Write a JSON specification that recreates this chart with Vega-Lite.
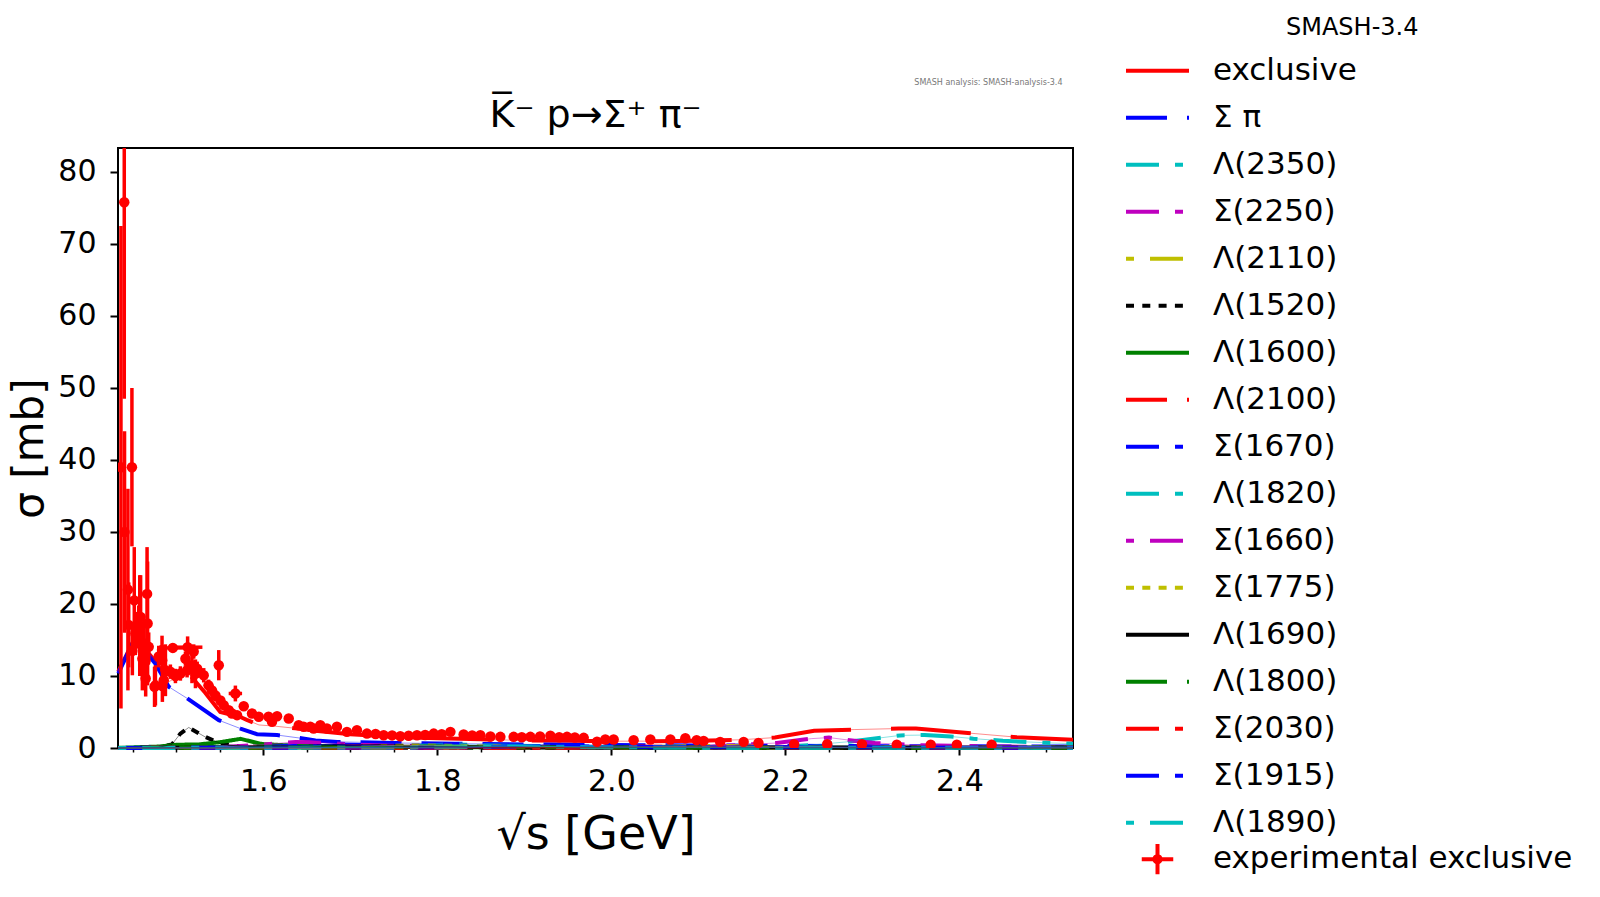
{
  "$schema": "https://vega.github.io/schema/vega-lite/v6.json",
  "width": 955,
  "height": 600,
  "autosize": {"type": "none"},
  "padding": {"left": 118, "top": 148, "right": 527, "bottom": 149},
  "background": "white",
  "config": {
    "font": "DejaVu Sans",
    "view": {"stroke": "black", "strokeWidth": 2},
    "axis": {
      "domain": false,
      "grid": false,
      "labelFont": "DejaVu Sans",
      "labelFontSize": 30,
      "labelColor": "black",
      "labelOverlap": false,
      "labelFlush": false,
      "tickColor": "black",
      "titleFont": "DejaVu Sans",
      "titleFontSize": 42,
      "titleFontWeight": "normal",
      "titleColor": "black"
    },
    "legend": {
      "labelFont": "DejaVu Sans",
      "labelFontSize": 31,
      "labelColor": "black",
      "labelLimit": 500,
      "labelOffset": 22,
      "symbolSize": 3969,
      "symbolStrokeWidth": 4,
      "symbolType": "stroke",
      "clipHeight": 46.4,
      "rowPadding": 0,
      "padding": 0
    }
  },
  "datasets": {
    "models": [
      {"series": "exclusive", "x": 1.4333, "y": 10.6},
      {"series": "exclusive", "x": 1.4529, "y": 15.4},
      {"series": "exclusive", "x": 1.468, "y": 13.2},
      {"series": "exclusive", "x": 1.476, "y": 12.0},
      {"series": "exclusive", "x": 1.4913, "y": 9.2},
      {"series": "exclusive", "x": 1.5047, "y": 10.1},
      {"series": "exclusive", "x": 1.5143, "y": 10.3},
      {"series": "exclusive", "x": 1.533, "y": 7.7},
      {"series": "exclusive", "x": 1.5505, "y": 5.0},
      {"series": "exclusive", "x": 1.5737, "y": 4.3},
      {"series": "exclusive", "x": 1.581, "y": 3.9},
      {"series": "exclusive", "x": 1.595, "y": 3.2},
      {"series": "exclusive", "x": 1.612, "y": 3.05},
      {"series": "exclusive", "x": 1.64, "y": 2.7},
      {"series": "exclusive", "x": 1.66, "y": 2.4},
      {"series": "exclusive", "x": 1.7, "y": 1.9},
      {"series": "exclusive", "x": 1.75, "y": 1.55},
      {"series": "exclusive", "x": 1.8, "y": 1.35},
      {"series": "exclusive", "x": 1.85, "y": 1.2},
      {"series": "exclusive", "x": 1.9, "y": 1.05},
      {"series": "exclusive", "x": 1.95, "y": 1.0},
      {"series": "exclusive", "x": 2.0, "y": 0.95},
      {"series": "exclusive", "x": 2.05, "y": 0.95},
      {"series": "exclusive", "x": 2.1, "y": 1.0},
      {"series": "exclusive", "x": 2.15, "y": 1.15},
      {"series": "exclusive", "x": 2.188, "y": 1.45},
      {"series": "exclusive", "x": 2.233, "y": 2.38},
      {"series": "exclusive", "x": 2.279, "y": 2.56},
      {"series": "exclusive", "x": 2.33, "y": 2.7},
      {"series": "exclusive", "x": 2.35, "y": 2.7},
      {"series": "exclusive", "x": 2.418, "y": 2.0},
      {"series": "exclusive", "x": 2.466, "y": 1.5},
      {"series": "exclusive", "x": 2.5305, "y": 1.15},

      {"series": "Σ π", "x": 1.4333, "y": 10.35},
      {"series": "Σ π", "x": 1.453, "y": 15.4},
      {"series": "Σ π", "x": 1.468, "y": 12.9},
      {"series": "Σ π", "x": 1.476, "y": 11.7},
      {"series": "Σ π", "x": 1.4913, "y": 8.5},
      {"series": "Σ π", "x": 1.5124, "y": 6.9},
      {"series": "Σ π", "x": 1.5488, "y": 3.86},
      {"series": "Σ π", "x": 1.5737, "y": 2.7},
      {"series": "Σ π", "x": 1.5928, "y": 1.92},
      {"series": "Σ π", "x": 1.6158, "y": 1.8},
      {"series": "Σ π", "x": 1.6407, "y": 1.4},
      {"series": "Σ π", "x": 1.66, "y": 1.05},
      {"series": "Σ π", "x": 1.685, "y": 0.85},
      {"series": "Σ π", "x": 1.75, "y": 0.7},
      {"series": "Σ π", "x": 1.82, "y": 0.6},
      {"series": "Σ π", "x": 1.9, "y": 0.5},
      {"series": "Σ π", "x": 2.0, "y": 0.4},
      {"series": "Σ π", "x": 2.1, "y": 0.35},
      {"series": "Σ π", "x": 2.2, "y": 0.3},
      {"series": "Σ π", "x": 2.35, "y": 0.25},
      {"series": "Σ π", "x": 2.5305, "y": 0.2},

      {"series": "Λ(2350)", "x": 1.4333, "y": 0.0},
      {"series": "Λ(2350)", "x": 2.2, "y": 0.1},
      {"series": "Λ(2350)", "x": 2.275, "y": 0.9},
      {"series": "Λ(2350)", "x": 2.332, "y": 1.75},
      {"series": "Λ(2350)", "x": 2.36, "y": 1.8},
      {"series": "Λ(2350)", "x": 2.39, "y": 1.6},
      {"series": "Λ(2350)", "x": 2.416, "y": 1.3},
      {"series": "Λ(2350)", "x": 2.45, "y": 1.0},
      {"series": "Λ(2350)", "x": 2.5, "y": 0.72},
      {"series": "Λ(2350)", "x": 2.5305, "y": 0.6},

      {"series": "Σ(2250)", "x": 1.4333, "y": 0.0},
      {"series": "Σ(2250)", "x": 2.1, "y": 0.1},
      {"series": "Σ(2250)", "x": 2.19, "y": 0.7},
      {"series": "Σ(2250)", "x": 2.23, "y": 1.3},
      {"series": "Σ(2250)", "x": 2.25, "y": 1.45},
      {"series": "Σ(2250)", "x": 2.274, "y": 1.08},
      {"series": "Σ(2250)", "x": 2.303, "y": 0.7},
      {"series": "Σ(2250)", "x": 2.35, "y": 0.4},
      {"series": "Σ(2250)", "x": 2.45, "y": 0.2},
      {"series": "Σ(2250)", "x": 2.5305, "y": 0.1},

      {"series": "Λ(2110)", "x": 1.4333, "y": 0.0},
      {"series": "Λ(2110)", "x": 2.0, "y": 0.05},
      {"series": "Λ(2110)", "x": 2.12, "y": 0.3},
      {"series": "Λ(2110)", "x": 2.2, "y": 0.15},
      {"series": "Λ(2110)", "x": 2.35, "y": 0.05},
      {"series": "Λ(2110)", "x": 2.5305, "y": 0.02},

      {"series": "Λ(1520)", "x": 1.4333, "y": 0.0},
      {"series": "Λ(1520)", "x": 1.478, "y": 0.05},
      {"series": "Λ(1520)", "x": 1.495, "y": 0.5},
      {"series": "Λ(1520)", "x": 1.5047, "y": 2.0},
      {"series": "Λ(1520)", "x": 1.5143, "y": 2.85},
      {"series": "Λ(1520)", "x": 1.533, "y": 1.55},
      {"series": "Λ(1520)", "x": 1.5507, "y": 0.62},
      {"series": "Λ(1520)", "x": 1.568, "y": 0.3},
      {"series": "Λ(1520)", "x": 1.6, "y": 0.15},
      {"series": "Λ(1520)", "x": 1.7, "y": 0.05},
      {"series": "Λ(1520)", "x": 2.0, "y": 0.02},
      {"series": "Λ(1520)", "x": 2.5305, "y": 0.01},

      {"series": "Λ(1600)", "x": 1.4333, "y": 0.02},
      {"series": "Λ(1600)", "x": 1.48, "y": 0.2},
      {"series": "Λ(1600)", "x": 1.5, "y": 0.45},
      {"series": "Λ(1600)", "x": 1.526, "y": 0.5},
      {"series": "Λ(1600)", "x": 1.55, "y": 0.8},
      {"series": "Λ(1600)", "x": 1.5737, "y": 1.27},
      {"series": "Λ(1600)", "x": 1.5986, "y": 0.55},
      {"series": "Λ(1600)", "x": 1.63, "y": 0.35},
      {"series": "Λ(1600)", "x": 1.7, "y": 0.2},
      {"series": "Λ(1600)", "x": 1.8, "y": 0.12},
      {"series": "Λ(1600)", "x": 2.0, "y": 0.08},
      {"series": "Λ(1600)", "x": 2.5305, "y": 0.04},

      {"series": "Λ(2100)", "x": 1.4333, "y": 0.0},
      {"series": "Λ(2100)", "x": 2.0, "y": 0.03},
      {"series": "Λ(2100)", "x": 2.1, "y": 0.15},
      {"series": "Λ(2100)", "x": 2.2, "y": 0.08},
      {"series": "Λ(2100)", "x": 2.5305, "y": 0.02},

      {"series": "Σ(1670)", "x": 1.4333, "y": 0.0},
      {"series": "Σ(1670)", "x": 1.6, "y": 0.2},
      {"series": "Σ(1670)", "x": 1.68, "y": 0.5},
      {"series": "Σ(1670)", "x": 1.75, "y": 0.3},
      {"series": "Σ(1670)", "x": 1.9, "y": 0.1},
      {"series": "Σ(1670)", "x": 2.5305, "y": 0.03},

      {"series": "Λ(1820)", "x": 1.4333, "y": 0.0},
      {"series": "Λ(1820)", "x": 1.75, "y": 0.2},
      {"series": "Λ(1820)", "x": 1.82, "y": 0.5},
      {"series": "Λ(1820)", "x": 1.88, "y": 0.3},
      {"series": "Λ(1820)", "x": 2.0, "y": 0.1},
      {"series": "Λ(1820)", "x": 2.5305, "y": 0.03},

      {"series": "Σ(1660)", "x": 1.4333, "y": 0.01},
      {"series": "Σ(1660)", "x": 1.55, "y": 0.1},
      {"series": "Σ(1660)", "x": 1.602, "y": 0.5},
      {"series": "Σ(1660)", "x": 1.637, "y": 0.85},
      {"series": "Σ(1660)", "x": 1.66, "y": 0.8},
      {"series": "Σ(1660)", "x": 1.7, "y": 0.5},
      {"series": "Σ(1660)", "x": 1.75, "y": 0.3},
      {"series": "Σ(1660)", "x": 1.85, "y": 0.15},
      {"series": "Σ(1660)", "x": 2.0, "y": 0.08},
      {"series": "Σ(1660)", "x": 2.5305, "y": 0.03},

      {"series": "Σ(1775)", "x": 1.4333, "y": 0.0},
      {"series": "Σ(1775)", "x": 1.7, "y": 0.15},
      {"series": "Σ(1775)", "x": 1.78, "y": 0.4},
      {"series": "Σ(1775)", "x": 1.85, "y": 0.25},
      {"series": "Σ(1775)", "x": 2.0, "y": 0.1},
      {"series": "Σ(1775)", "x": 2.5305, "y": 0.03},

      {"series": "Λ(1690)", "x": 1.4333, "y": 0.0},
      {"series": "Λ(1690)", "x": 1.65, "y": 0.15},
      {"series": "Λ(1690)", "x": 1.69, "y": 0.3},
      {"series": "Λ(1690)", "x": 1.75, "y": 0.2},
      {"series": "Λ(1690)", "x": 1.9, "y": 0.08},
      {"series": "Λ(1690)", "x": 2.5305, "y": 0.02},

      {"series": "Λ(1800)", "x": 1.4333, "y": 0.0},
      {"series": "Λ(1800)", "x": 1.75, "y": 0.1},
      {"series": "Λ(1800)", "x": 1.8, "y": 0.2},
      {"series": "Λ(1800)", "x": 1.9, "y": 0.1},
      {"series": "Λ(1800)", "x": 2.5305, "y": 0.02},

      {"series": "Σ(2030)", "x": 1.4333, "y": 0.0},
      {"series": "Σ(2030)", "x": 1.95, "y": 0.05},
      {"series": "Σ(2030)", "x": 2.03, "y": 0.2},
      {"series": "Σ(2030)", "x": 2.1, "y": 0.1},
      {"series": "Σ(2030)", "x": 2.5305, "y": 0.02},

      {"series": "Σ(1915)", "x": 1.4333, "y": 0.0},
      {"series": "Σ(1915)", "x": 1.85, "y": 0.1},
      {"series": "Σ(1915)", "x": 1.92, "y": 0.3},
      {"series": "Σ(1915)", "x": 2.0, "y": 0.15},
      {"series": "Σ(1915)", "x": 2.5305, "y": 0.03},

      {"series": "Λ(1890)", "x": 1.4333, "y": 0.0},
      {"series": "Λ(1890)", "x": 1.82, "y": 0.1},
      {"series": "Λ(1890)", "x": 1.89, "y": 0.3},
      {"series": "Λ(1890)", "x": 1.95, "y": 0.15},
      {"series": "Λ(1890)", "x": 2.1, "y": 0.05},
      {"series": "Λ(1890)", "x": 2.5305, "y": 0.02}
    ],
    "exp": [
      {"x": 1.4364, "y": 39.0, "yerr": 33.5},
      {"x": 1.4402, "y": 75.8, "yerr": 27.3},
      {"x": 1.4405, "y": 30.0, "yerr": 14.0},
      {"x": 1.4444, "y": 22.0, "yerr": 14.0},
      {"x": 1.4453, "y": 17.1, "yerr": 5.9},
      {"x": 1.449, "y": 39.0, "yerr": 11.0},
      {"x": 1.4495, "y": 13.5, "yerr": 3.4},
      {"x": 1.4517, "y": 20.5, "yerr": 7.4},
      {"x": 1.453, "y": 15.9, "yerr": 3.0},
      {"x": 1.4568, "y": 16.8, "yerr": 3.0},
      {"x": 1.458, "y": 17.0, "yerr": 7.0},
      {"x": 1.459, "y": 18.2, "yerr": 5.8},
      {"x": 1.461, "y": 12.4, "yerr": 4.4},
      {"x": 1.4626, "y": 11.3, "yerr": 2.5},
      {"x": 1.463, "y": 14.5, "yerr": 3.0},
      {"x": 1.4645, "y": 12.0, "yerr": 3.0},
      {"x": 1.4648, "y": 9.65, "yerr": 2.5},
      {"x": 1.4664, "y": 21.4, "yerr": 6.5},
      {"x": 1.467, "y": 17.3, "yerr": 8.6},
      {"x": 1.4683, "y": 14.05, "yerr": 2.0},
      {"x": 1.475, "y": 8.5, "yerr": 2.8},
      {"x": 1.476, "y": 8.7, "yerr": 2.8},
      {"x": 1.4798, "y": 12.7, "yerr": 1.5},
      {"x": 1.4836, "y": 13.6, "yerr": 2.0},
      {"x": 1.4838, "y": 12.2, "yerr": 1.5},
      {"x": 1.484, "y": 8.6, "yerr": 2.2},
      {"x": 1.4856, "y": 9.4, "yerr": 1.5},
      {"x": 1.4875, "y": 10.8, "yerr": 3.6},
      {"x": 1.4932, "y": 10.6, "yerr": 1.0},
      {"x": 1.496, "y": 13.9, "yerr": 0.6, "xerr": 0.018},
      {"x": 1.499, "y": 10.0, "yerr": 1.0},
      {"x": 1.5047, "y": 10.35, "yerr": 1.0},
      {"x": 1.5105, "y": 12.4, "yerr": 1.0},
      {"x": 1.5124, "y": 10.8, "yerr": 1.0},
      {"x": 1.513, "y": 14.0, "yerr": 1.5, "xerr": 0.017},
      {"x": 1.518, "y": 11.5, "yerr": 2.5},
      {"x": 1.52, "y": 13.4, "yerr": 1.0},
      {"x": 1.522, "y": 10.3, "yerr": 2.0},
      {"x": 1.524, "y": 11.0, "yerr": 1.0},
      {"x": 1.5315, "y": 10.1, "yerr": 1.0},
      {"x": 1.537, "y": 8.7, "yerr": 0.8},
      {"x": 1.541, "y": 8.0, "yerr": 0.8},
      {"x": 1.545, "y": 7.3, "yerr": 0.8},
      {"x": 1.5488, "y": 11.5, "yerr": 2.1},
      {"x": 1.5507, "y": 6.6, "yerr": 0.6},
      {"x": 1.5545, "y": 5.95, "yerr": 0.5},
      {"x": 1.5603, "y": 5.25, "yerr": 0.5},
      {"x": 1.564, "y": 4.8, "yerr": 0.5},
      {"x": 1.5679, "y": 7.57, "yerr": 1.1, "xerr": 0.0077},
      {"x": 1.5698, "y": 4.56, "yerr": 0.4},
      {"x": 1.5775, "y": 5.8, "yerr": 0.5},
      {"x": 1.587, "y": 4.8, "yerr": 0.4},
      {"x": 1.5948, "y": 4.33, "yerr": 0.4},
      {"x": 1.606, "y": 4.33, "yerr": 0.3},
      {"x": 1.61, "y": 3.63, "yerr": 0.3},
      {"x": 1.6158, "y": 4.42, "yerr": 0.3},
      {"x": 1.6292, "y": 4.1, "yerr": 0.3},
      {"x": 1.6407, "y": 3.17, "yerr": 0.3},
      {"x": 1.6463, "y": 2.94, "yerr": 0.3},
      {"x": 1.654, "y": 2.94, "yerr": 0.3},
      {"x": 1.6578, "y": 2.7, "yerr": 0.3},
      {"x": 1.6655, "y": 3.17, "yerr": 0.3},
      {"x": 1.6731, "y": 2.7, "yerr": 0.3},
      {"x": 1.6846, "y": 2.94, "yerr": 0.3},
      {"x": 1.6961, "y": 2.24, "yerr": 0.2},
      {"x": 1.7076, "y": 2.47, "yerr": 0.2},
      {"x": 1.7191, "y": 2.0, "yerr": 0.2},
      {"x": 1.729, "y": 1.95, "yerr": 0.2},
      {"x": 1.7383, "y": 1.78, "yerr": 0.2},
      {"x": 1.748, "y": 1.75, "yerr": 0.2},
      {"x": 1.7574, "y": 1.64, "yerr": 0.2},
      {"x": 1.767, "y": 1.7, "yerr": 0.2},
      {"x": 1.7766, "y": 1.78, "yerr": 0.2},
      {"x": 1.786, "y": 1.8, "yerr": 0.2},
      {"x": 1.7958, "y": 2.0, "yerr": 0.2},
      {"x": 1.805, "y": 1.9, "yerr": 0.2},
      {"x": 1.815, "y": 2.24, "yerr": 0.2},
      {"x": 1.8302, "y": 1.87, "yerr": 0.2},
      {"x": 1.84, "y": 1.75, "yerr": 0.2},
      {"x": 1.8494, "y": 1.78, "yerr": 0.2},
      {"x": 1.861, "y": 1.6, "yerr": 0.2},
      {"x": 1.8724, "y": 1.55, "yerr": 0.2},
      {"x": 1.8877, "y": 1.55, "yerr": 0.2},
      {"x": 1.897, "y": 1.5, "yerr": 0.2},
      {"x": 1.9069, "y": 1.55, "yerr": 0.2},
      {"x": 1.918, "y": 1.6, "yerr": 0.2},
      {"x": 1.9299, "y": 1.69, "yerr": 0.2},
      {"x": 1.94, "y": 1.5, "yerr": 0.2},
      {"x": 1.949, "y": 1.55, "yerr": 0.2},
      {"x": 1.958, "y": 1.45, "yerr": 0.2},
      {"x": 1.9682, "y": 1.41, "yerr": 0.2},
      {"x": 1.9835, "y": 0.86, "yerr": 0.2},
      {"x": 1.993, "y": 1.17, "yerr": 0.2},
      {"x": 2.0026, "y": 1.18, "yerr": 0.2},
      {"x": 2.0256, "y": 1.09, "yerr": 0.2},
      {"x": 2.0448, "y": 1.18, "yerr": 0.2},
      {"x": 2.0678, "y": 1.18, "yerr": 0.2},
      {"x": 2.085, "y": 1.35, "yerr": 0.2},
      {"x": 2.098, "y": 1.09, "yerr": 0.2},
      {"x": 2.106, "y": 0.99, "yerr": 0.2},
      {"x": 2.125, "y": 0.85, "yerr": 0.2},
      {"x": 2.152, "y": 0.85, "yerr": 0.2},
      {"x": 2.169, "y": 0.71, "yerr": 0.2},
      {"x": 2.21, "y": 0.52, "yerr": 0.15},
      {"x": 2.248, "y": 0.52, "yerr": 0.15},
      {"x": 2.288, "y": 0.52, "yerr": 0.15},
      {"x": 2.328, "y": 0.45, "yerr": 0.15},
      {"x": 2.367, "y": 0.45, "yerr": 0.15},
      {"x": 2.397, "y": 0.45, "yerr": 0.15},
      {"x": 2.437, "y": 0.45, "yerr": 0.15}
    ]
  },
  "layer": [
    {
      "data": {"name": "models"},
      "mark": {"type": "line", "strokeWidth": 4},
      "encoding": {
        "x": {
          "field": "x",
          "type": "quantitative",
          "title": "√s [GeV]",
          "scale": {"domain": [1.433, 2.5305], "nice": false, "zero": false},
          "axis": {
            "values": [1.45, 1.5, 1.55, 1.6, 1.65, 1.7, 1.75, 1.8, 1.85, 1.9, 1.95, 2.0, 2.05, 2.1, 2.15, 2.2, 2.25, 2.3, 2.35, 2.4, 2.45, 2.5],
            "labelExpr": "abs(datum.value*5 - round(datum.value*5)) < 0.001 ? format(datum.value, '.1f') : ''",
            "tickSize": {"condition": {"test": "abs(datum.value*5 - round(datum.value*5)) < 0.001", "value": 7}, "value": 4},
            "tickWidth": {"condition": {"test": "abs(datum.value*5 - round(datum.value*5)) < 0.001", "value": 2}, "value": 1.5},
            "labelPadding": 11,
            "titlePadding": 16,
            "titleFontSize": 46,
            "labelFlush": false,
            "labelOverlap": false
          }
        },
        "y": {
          "field": "y",
          "type": "quantitative",
          "title": "σ [mb]",
          "scale": {"domain": [0, 83.33], "nice": false, "zero": true},
          "axis": {
            "values": [0, 10, 20, 30, 40, 50, 60, 70, 80],
            "format": "d",
            "tickSize": 8,
            "tickWidth": 2,
            "labelPadding": 14,
            "titlePadding": 6,
            "labelOverlap": false
          }
        },
        "color": {
          "field": "series",
          "type": "nominal",
          "scale": {
            "domain": ["exclusive", "Σ π", "Λ(2350)", "Σ(2250)", "Λ(2110)", "Λ(1520)", "Λ(1600)", "Λ(2100)", "Σ(1670)", "Λ(1820)", "Σ(1660)", "Σ(1775)", "Λ(1690)", "Λ(1800)", "Σ(2030)", "Σ(1915)", "Λ(1890)"],
            "range": ["#ff0000", "#0000ff", "#00bfbf", "#bf00bf", "#bfbf00", "#000000", "#008000", "#ff0000", "#0000ff", "#00bfbf", "#bf00bf", "#bfbf00", "#000000", "#008000", "#ff0000", "#0000ff", "#00bfbf"]
          },
          "legend": {"title": null, "orient": "none", "legendX": 1006, "legendY": -100.5}
        },
        "strokeDash": {
          "field": "series",
          "type": "nominal",
          "scale": {
            "domain": ["exclusive", "Σ π", "Λ(2350)", "Σ(2250)", "Λ(2110)", "Λ(1520)", "Λ(1600)", "Λ(2100)", "Σ(1670)", "Λ(1820)", "Σ(1660)", "Σ(1775)", "Λ(1690)", "Λ(1800)", "Σ(2030)", "Σ(1915)", "Λ(1890)"],
            "range": [[80, 40], [41, 20], [33, 16, 8, 16], [33, 16, 8, 16], [8, 16, 33, 16], [8, 8.3], [1, 0], [41, 20], [33, 16, 8, 16], [33, 16, 8, 16], [8, 16, 33, 16], [8, 8.3], [1, 0], [41, 20], [33, 16, 8, 16], [33, 16, 8, 16], [8, 16, 33, 16]]
          },
          "legend": {"title": null, "orient": "none", "legendX": 1006, "legendY": -100.5}
        }
      }
    },
    {
      "data": {"name": "models"},
      "mark": {"type": "line", "strokeWidth": 1, "opacity": 0.45},
      "encoding": {
        "x": {"field": "x", "type": "quantitative", "title": "√s [GeV]"},
        "y": {"field": "y", "type": "quantitative", "title": "σ [mb]"},
        "stroke": {
          "field": "series",
          "type": "nominal",
          "scale": {
            "domain": ["exclusive", "Σ π", "Λ(2350)", "Σ(2250)", "Λ(2110)", "Λ(1520)", "Λ(1600)", "Λ(2100)", "Σ(1670)", "Λ(1820)", "Σ(1660)", "Σ(1775)", "Λ(1690)", "Λ(1800)", "Σ(2030)", "Σ(1915)", "Λ(1890)"],
            "range": ["#ff0000", "#0000ff", "#00bfbf", "#bf00bf", "#bfbf00", "#000000", "#008000", "#ff0000", "#0000ff", "#00bfbf", "#bf00bf", "#bfbf00", "#000000", "#008000", "#ff0000", "#0000ff", "#00bfbf"]
          },
          "legend": null
        }
      }
    },
    {
      "data": {"name": "exp"},
      "mark": {"type": "errorbar", "color": "#ff0000", "thickness": 3.5, "clip": true},
      "encoding": {
        "x": {"field": "x", "type": "quantitative", "title": "√s [GeV]"},
        "y": {"field": "y", "type": "quantitative", "title": "σ [mb]"},
        "yError": {"field": "yerr"}
      }
    },
    {
      "data": {"name": "exp"},
      "transform": [{"filter": "isValid(datum.xerr)"}],
      "mark": {"type": "errorbar", "color": "#ff0000", "thickness": 3.5, "clip": true},
      "encoding": {
        "y": {"field": "y", "type": "quantitative", "title": "σ [mb]"},
        "x": {"field": "x", "type": "quantitative", "title": "√s [GeV]"},
        "xError": {"field": "xerr"}
      }
    },
    {
      "data": {"name": "exp"},
      "mark": {"type": "circle", "color": "#ff0000", "size": 110, "opacity": 1, "clip": true},
      "encoding": {
        "x": {"field": "x", "type": "quantitative", "title": "√s [GeV]"},
        "y": {"field": "y", "type": "quantitative", "title": "σ [mb]"}
      }
    },
    {
      "data": {"name": "exp"},
      "transform": [{"filter": "false"}],
      "mark": {"type": "point", "filled": false, "strokeWidth": 4, "color": "#ff0000", "opacity": 1},
      "encoding": {
        "x": {"field": "x", "type": "quantitative", "title": "√s [GeV]"},
        "y": {"field": "y", "type": "quantitative", "title": "σ [mb]"},
        "shape": {
          "datum": "experimental exclusive",
          "scale": {"range": ["M-0.5,0H0.5M0,-0.48V0.48M0.1,0A0.1,0.1 0 1 1 -0.1,0A0.1,0.1 0 1 1 0.1,0"]},
          "legend": {"title": null, "orient": "none", "legendX": 1006, "legendY": 688}
        }
      }
    },
    {
      "data": {"values": [
        {"label": "K\u0305\u207b p\u2192\u03a3\u207a \u03c0\u207b"}
      ]},
      "mark": {"type": "text", "font": "DejaVu Sans", "fontSize": 38, "color": "black", "baseline": "middle"},
      "encoding": {
        "x": {"datum": 1.9818, "type": "quantitative"},
        "y": {"datum": 87.8, "type": "quantitative"},
        "text": {"field": "label"}
      }
    },
    {
      "data": {"values": [
        {"label": "SMASH-3.4"}
      ]},
      "mark": {"type": "text", "font": "DejaVu Sans", "fontSize": 24, "color": "black", "baseline": "middle"},
      "encoding": {
        "x": {"datum": 2.8514, "type": "quantitative"},
        "y": {"datum": 100.03, "type": "quantitative"},
        "text": {"field": "label"}
      }
    },
    {
      "data": {"values": [
        {"label": "SMASH analysis: SMASH-analysis-3.4"}
      ]},
      "mark": {"type": "text", "font": "DejaVu Sans", "fontSize": 8, "color": "#777777"},
      "encoding": {
        "x": {"datum": 2.4333, "type": "quantitative"},
        "y": {"datum": 92.3, "type": "quantitative"},
        "text": {"field": "label"}
      }
    }
  ]
}
